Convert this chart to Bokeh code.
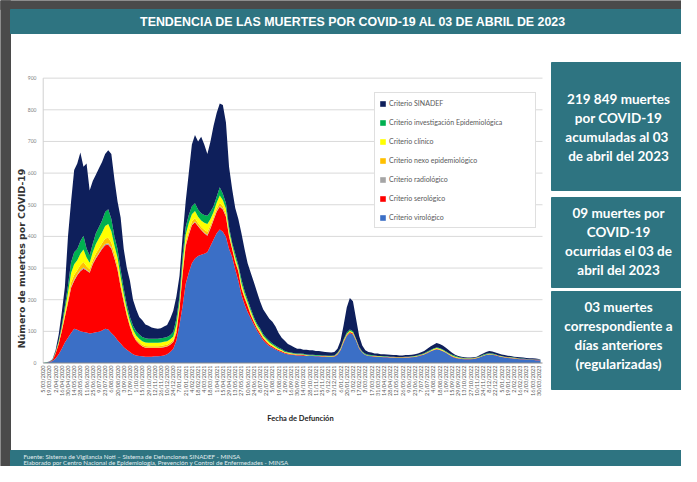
import math
from datetime import date, timedelta
from bokeh.plotting import figure
from bokeh.models import Range1d, ColumnDataSource, Legend, LegendItem
from bokeh.core.properties import value
from bokeh.embed import file_html
from bokeh.resources import INLINE

# ---------------- DATA (weekly readings, deaths per day) ----------------
inicio = date(2020, 3, 5)
dias = [7 * k for k in range(161)] + [1124]   # days since 5/03/2020

virologico = [0, 1, 3, 6, 14, 28, 45, 65, 80, 95,
              108, 105, 100, 98, 96, 93, 95, 97, 99, 103,
              108, 106, 95, 85, 72, 62, 50, 42, 35, 28,
              24, 22, 21, 20, 20, 20, 21, 21, 22, 24,
              28, 35, 45, 70, 120, 180, 250, 285, 315, 330,
              338, 342, 345, 350, 370, 390, 410, 422, 415, 398,
              360, 335, 295, 260, 215, 185, 160, 141, 122, 103,
              88, 72, 62, 54, 48, 43, 38, 34, 30, 28,
              26, 25, 24, 24, 23, 23, 22, 22, 21, 21,
              20, 20, 19, 19, 20, 26, 40, 65, 85, 95,
              90, 70, 45, 32, 25, 22, 21, 20, 19, 19,
              18, 18, 17, 17, 16, 16, 16, 17, 17, 18,
              19, 21, 24, 27, 31, 36, 40, 43, 41, 37,
              32, 26, 20, 16, 14, 13, 12, 12, 12, 13,
              15, 18, 22, 25, 27, 26, 24, 21, 19, 17,
              16, 15, 14, 13, 12, 12, 11, 10, 10, 9,
              9, 8]

serologico = [0, 0, 1, 3, 16, 32, 55, 80, 110, 143,
              152, 172, 190, 200, 196, 192, 217, 233, 246, 257,
              264, 268, 267, 245, 223, 178, 143, 108, 80, 60,
              46, 38, 31, 28, 27, 27, 26, 26, 26, 26,
              24, 23, 21, 25, 50, 100, 120, 120, 120, 115,
              94, 78, 65, 52, 55, 62, 68, 72, 70, 64,
              40, 25, 23, 30, 20, 20, 20, 11, 8, 7,
              6, 6, 5, 4, 4, 3, 3, 3, 2, 2,
              2, 2, 2, 2, 2, 1, 1, 1, 1, 1,
              1, 1, 1, 1, 1, 2, 2, 3, 3, 3,
              3, 2, 2, 1, 1, 1, 1, 1, 1, 1,
              1, 1, 1, 1, 1, 1, 1, 1, 1, 1,
              1, 1, 1, 1, 1, 1, 1, 1, 1, 1,
              1, 1, 1, 1, 1, 1, 1, 1, 1, 1,
              1, 1, 1, 1, 1, 1, 1, 1, 1, 1,
              1, 1, 1, 1, 1, 1, 1, 1, 1, 1,
              1, 0]

radiologico = [0, 0, 0, 0, 0, 0, 1, 1, 2, 3,
               4, 3, 4, 4, 3, 2, 3, 3, 3, 4,
               4, 4, 4, 3, 3, 2, 2, 1, 1, 1,
               1, 1, 1, 1, 1, 1, 1, 1, 1, 1,
               1, 1, 1, 2, 2, 2, 2, 3, 2, 2,
               2, 2, 2, 3, 2, 2, 2, 2, 2, 2,
               1, 1, 1, 1, 1, 1, 1, 1, 1, 1,
               1, 1, 1, 0, 0, 0, 0, 0, 0, 0,
               0, 0, 0, 0, 0, 0, 0, 0, 0, 0,
               0, 0, 0, 0, 0, 0, 0, 0, 0, 0,
               0, 0, 0, 0, 0, 0, 0, 0, 0, 0,
               0, 0, 0, 0, 0, 0, 0, 0, 0, 0,
               0, 0, 0, 0, 0, 0, 0, 0, 0, 0,
               0, 0, 0, 0, 0, 0, 0, 0, 0, 0,
               0, 0, 0, 0, 0, 0, 0, 0, 0, 0,
               0, 0, 0, 0, 0, 0, 0, 0, 0, 0,
               0, 0]

nexo = [0, 0, 0, 0, 1, 2, 3, 6, 9, 13,
        14, 13, 15, 17, 11, 9, 10, 13, 14, 14,
        17, 18, 15, 11, 10, 9, 7, 6, 5, 5,
        5, 5, 5, 5, 5, 5, 5, 5, 5, 5,
        5, 5, 5, 7, 6, 10, 10, 10, 10, 10,
        8, 8, 9, 10, 8, 7, 8, 10, 8, 7,
        5, 3, 4, 3, 5, 4, 3, 3, 2, 2,
        3, 2, 2, 2, 2, 1, 1, 1, 1, 1,
        1, 1, 1, 1, 1, 0, 0, 0, 0, 0,
        0, 0, 0, 0, 0, 1, 1, 1, 1, 1,
        1, 1, 1, 0, 0, 0, 0, 0, 0, 0,
        0, 0, 0, 0, 0, 0, 0, 0, 0, 0,
        0, 0, 0, 0, 1, 1, 1, 1, 1, 1,
        1, 1, 1, 1, 1, 0, 0, 0, 0, 0,
        0, 0, 0, 0, 0, 0, 0, 0, 0, 0,
        0, 0, 0, 0, 0, 0, 0, 0, 0, 0,
        0, 0]

clinico = [0, 0, 0, 0, 2, 4, 8, 13, 21, 30,
           34, 32, 36, 40, 27, 21, 25, 30, 32, 34,
           40, 43, 35, 27, 25, 21, 16, 13, 11, 11,
           11, 11, 11, 11, 11, 11, 11, 11, 11, 11,
           11, 11, 12, 17, 15, 23, 23, 24, 23, 23,
           20, 20, 22, 24, 20, 16, 18, 23, 19, 16,
           11, 8, 10, 8, 11, 9, 8, 8, 6, 6,
           6, 5, 5, 5, 4, 4, 3, 3, 2, 2,
           2, 1, 1, 1, 1, 1, 1, 1, 1, 1,
           1, 1, 1, 1, 1, 1, 2, 3, 3, 3,
           3, 2, 1, 1, 1, 1, 1, 1, 1, 1,
           1, 1, 1, 1, 1, 1, 1, 1, 1, 1,
           1, 1, 1, 1, 1, 1, 2, 2, 2, 2,
           1, 1, 2, 2, 1, 1, 1, 1, 1, 1,
           1, 1, 1, 1, 1, 1, 1, 1, 1, 1,
           1, 1, 1, 1, 0, 0, 0, 0, 0, 0,
           0, 0]

investigacion = [0, 1, 0, 1, 2, 4, 8, 15, 23, 34,
                 38, 35, 40, 43, 29, 23, 27, 34, 36, 38,
                 44, 47, 39, 29, 27, 23, 17, 15, 13, 13,
                 13, 13, 13, 13, 13, 13, 13, 13, 13, 13,
                 13, 13, 14, 19, 17, 25, 25, 26, 25, 25,
                 23, 23, 25, 26, 23, 18, 19, 26, 21, 18,
                 13, 8, 12, 8, 13, 9, 8, 8, 6, 6,
                 6, 6, 5, 5, 4, 4, 4, 3, 3, 2,
                 2, 2, 2, 2, 2, 2, 2, 2, 2, 2,
                 2, 2, 2, 2, 2, 2, 2, 3, 4, 4,
                 3, 2, 2, 2, 2, 2, 2, 2, 1, 1,
                 1, 1, 1, 1, 1, 1, 1, 1, 1, 1,
                 1, 2, 2, 2, 2, 2, 2, 2, 2, 2,
                 2, 2, 2, 3, 2, 2, 1, 1, 1, 1,
                 1, 1, 2, 2, 2, 2, 2, 1, 1, 1,
                 1, 1, 1, 1, 1, 1, 1, 1, 1, 1,
                 1, 1]

sinadef = [0, 0, 1, 2, 5, 20, 40, 60, 155, 192,
           260, 270, 280, 218, 268, 205, 198, 185, 185, 185,
           183, 186, 205, 180, 150, 165, 125, 115, 115, 82,
           70, 55, 53, 44, 41, 35, 33, 31, 32, 35,
           38, 52, 67, 70, 65, 60, 80, 132, 195, 215,
           215, 242, 222, 195, 222, 255, 265, 265, 280, 255,
           190, 170, 145, 145, 145, 132, 115, 113, 111, 100,
           85, 78, 75, 70, 68, 60, 46, 36, 32, 25,
           22, 19, 15, 15, 13, 15, 14, 14, 13, 13,
           12, 11, 11, 10, 11, 13, 23, 45, 79, 99,
           95, 63, 34, 19, 11, 9, 8, 6, 8, 6,
           7, 6, 6, 5, 6, 5, 5, 5, 5, 5,
           6, 5, 6, 7, 9, 11, 12, 14, 13, 12,
           11, 9, 6, 3, 3, 3, 3, 2, 2, 2,
           2, 4, 4, 6, 7, 6, 5, 6, 5, 5,
           4, 4, 3, 3, 4, 3, 3, 3, 3, 3,
           2, 1]

series = ["virologico", "serologico", "radiologico", "nexo", "clinico", "investigacion", "sinadef"]
etiquetas_series = {
    "sinadef": "Criterio SINADEF",
    "investigacion": "Criterio investigación Epidemiológica",
    "clinico": "Criterio clínico",
    "nexo": "Criterio nexo epidemiológico",
    "radiologico": "Criterio radiológico",
    "serologico": "Criterio serológico",
    "virologico": "Criterio virológico",
}
colores = {
    "virologico": "#3b6fc6",
    "serologico": "#ff0000",
    "radiologico": "#a5a5a5",
    "nexo": "#ffc000",
    "clinico": "#ffff00",
    "investigacion": "#00b050",
    "sinadef": "#0e1f5b",
}
orden_leyenda = ["sinadef", "investigacion", "clinico", "nexo", "radiologico", "serologico", "virologico"]

y_ticks = [0, 100, 200, 300, 400, 500, 600, 700, 800, 900]
x_tick_dias = [14 * i for i in range(81)]
x_tick_labels = [f"{d.day}/{d.month:02d}/{d.year}" for d in (inicio + timedelta(days=t) for t in x_tick_dias)]

titulo = "TENDENCIA DE LAS MUERTES POR COVID-19 AL 03 DE ABRIL DE 2023"
cajas = [
    ["219 849 muertes", "por COVID-19", "acumuladas al  03", "de abril del 2023"],
    ["09 muertes por", "COVID-19", "ocurridas el 03 de", "abril del 2023"],
    ["03 muertes", "correspondiente a", "días anteriores", "(regularizadas)"],
]
pie = ["Fuente: Sistema de Vigilancia Noti \u2013 Sistema de Defunciones SINADEF - MINSA",
       "Elaborado por Centro Nacional de Epidemiología, Prevención y Control de Enfermedades - MINSA"]

# ---------------- LAYOUT (pixel coordinates of the canvas) ----------------
W, H = 681, 466
TEAL = "#2e7481"
X0, PX_DIA = 42.7, 0.4425       # day 0 at x=42.7px
Y0, PX_UNI = 362.5, 0.3165      # 0 deaths at y=362.5px
X_END = 542

p = figure(width=W, height=H, x_range=Range1d(0, W), y_range=Range1d(H, 0),
           output_backend="svg", toolbar_location=None, min_border=0,
           x_axis_type=None, y_axis_type=None, outline_line_color=None,
           background_fill_color="white", border_fill_color="white")
p.xgrid.visible = False
p.ygrid.visible = False
p.extra_x_ranges = {"dias": Range1d((0 - X0) / PX_DIA, (W - X0) / PX_DIA)}
p.extra_y_ranges = {"muertes": Range1d((Y0 - H) / PX_UNI, (Y0 - 0) / PX_UNI)}

# frame / title bar / footer
p.quad(left=[0, 0], right=[10, W], top=[0, 0], bottom=[H, 9], color="#4a4a4a")
p.quad(left=[10], right=[W], top=[9], bottom=[33], color=TEAL)
p.text(x=[353], y=[21.5], text=[titulo], text_align="center", text_baseline="middle",
       text_color="white", text_font=value("Liberation Sans"), text_font_style="bold",
       text_font_size="12.4px")
p.quad(left=[10], right=[W], top=[450], bottom=[H], color=TEAL)
p.text(x=[23, 23], y=[455.5, 462], text=pie, text_align="left", text_baseline="middle",
       text_color="#e3eef0", text_font=value("Lato"), text_font_size="6.2px")

# right boxes
p.quad(left=[551, 551, 551], right=[692, 692, 692], top=[62, 197, 291], bottom=[190, 287, 389], color=TEAL)
bx, by, bt = [], [], []
for lines, y_start in zip(cajas, [98, 212, 306]):
    for i, t in enumerate(lines):
        bx.append(618)
        by.append(y_start + 19 * i)
        bt.append(t)
p.text(x=bx, y=by, text=bt, text_align="center", text_baseline="middle", text_color="white",
       text_font=value("Lato"), text_font_style="bold", text_font_size="13.5px")

# gridlines and axis lines
grid_vals = y_ticks[1:]
p.segment(x0=[X0] * len(grid_vals), x1=[X_END] * len(grid_vals), y0=grid_vals, y1=grid_vals,
          y_range_name="muertes", line_color="#d9d9d9", line_width=1)
p.segment(x0=[X0], x1=[X0], y0=[0], y1=[900], y_range_name="muertes", line_color="#d0d0d0", line_width=1)

# stacked areas
src = ColumnDataSource(dict(dias=dias, virologico=virologico, serologico=serologico,
                            radiologico=radiologico, nexo=nexo, clinico=clinico,
                            investigacion=investigacion, sinadef=sinadef))
rends = p.varea_stack(series, x="dias", color=[colores[s] for s in series], source=src,
                      x_range_name="dias", y_range_name="muertes")
rmap = dict(zip(series, rends))

p.segment(x0=[X0], x1=[X_END], y0=[0], y1=[0], y_range_name="muertes", line_color="#8c8c8c", line_width=1)

# tick labels
p.text(x=[36] * len(y_ticks), y=y_ticks, text=[str(v) for v in y_ticks], y_range_name="muertes",
       text_align="right", text_baseline="middle", text_color="#7f7f7f",
       text_font=value("Lato"), text_font_size="5px")
p.text(x=x_tick_dias, y=[365] * len(x_tick_dias), text=x_tick_labels, x_range_name="dias",
       angle=math.pi / 2, text_align="right", text_baseline="middle", text_color="#595959",
       text_font=value("Lato"), text_font_size="5.5px")

# axis titles
p.text(x=[21], y=[258], text=["Número de muertes por COVID-19"], angle=math.pi / 2,
       text_align="center", text_baseline="middle", text_color="#333333",
       text_font=value("DejaVu Sans"), text_font_style="bold", text_font_size="9.4px")
p.text(x=[300], y=[418], text=["Fecha de Defunción"], text_align="center", text_baseline="middle",
       text_color="#222222", text_font=value("Lato"), text_font_style="bold", text_font_size="7.5px")

# legend
legend = Legend(items=[LegendItem(label=etiquetas_series[s], renderers=[rmap[s]]) for s in orden_leyenda],
                location=(374, H - 228), orientation="vertical",
                border_line_color="#bfbfbf", border_line_width=1,
                background_fill_color="white", background_fill_alpha=1.0,
                label_text_font="Lato", label_text_font_size="7px", label_text_color="#595959",
                glyph_width=7, glyph_height=7, label_height=12, label_width=142,
                spacing=7, padding=4, margin=0, label_standoff=3)
p.add_layout(legend)

open("out.html", "w").write(file_html(p, INLINE))
